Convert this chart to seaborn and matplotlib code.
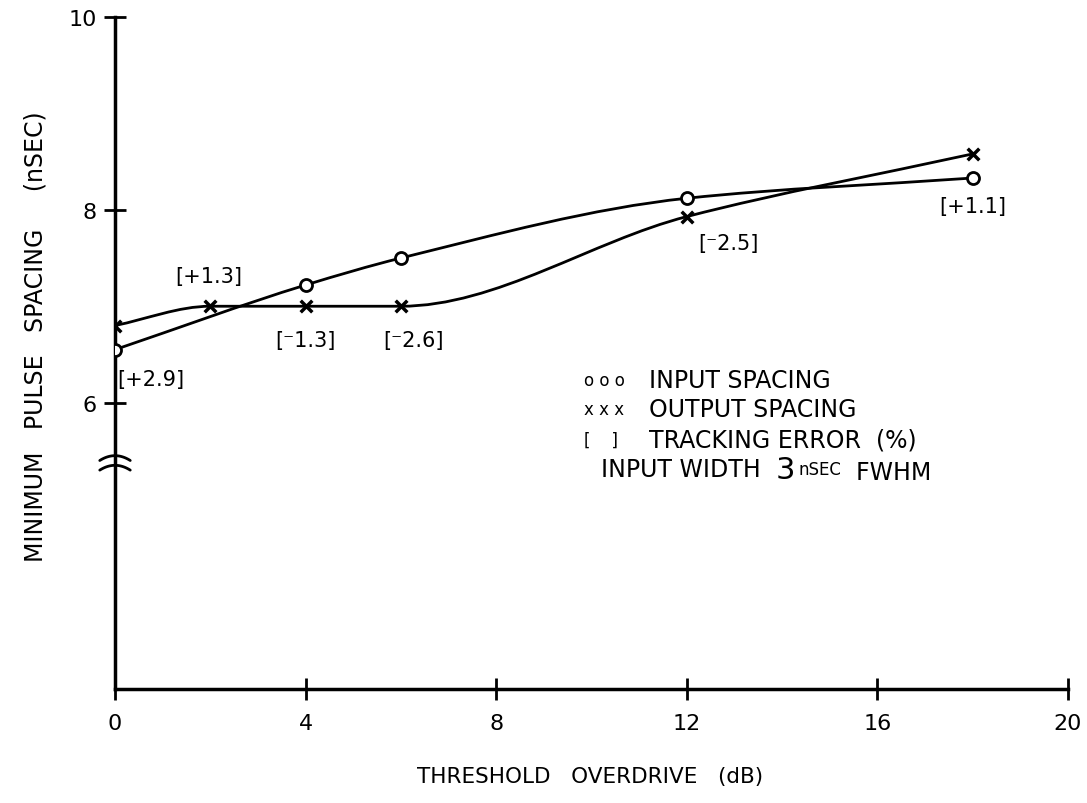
import matplotlib
matplotlib.use("Agg")
import matplotlib.pyplot as plt
from matplotlib.path import Path
from matplotlib.patches import PathPatch
import seaborn as sns
import pandas as pd
import numpy as np

sns.set_style("white")
plt.rcParams["font.family"] = ["DejaVu Sans"]
plt.rcParams["text.color"] = "black"
plt.rcParams["axes.labelcolor"] = "black"

# values
overdrive_in = [0, 4, 6, 12, 18]
input_spacing = [6.55, 7.22, 7.50, 8.12, 8.33]
overdrive_out = [0, 2, 4, 6, 12, 18]
output_spacing = [6.80, 7.00, 7.00, 7.00, 7.93, 8.58]

# tracking error labels, attached to a point on one of the curves
error_x = [0, 2, 4, 6, 12, 18]
error_y = [6.55, 7.00, 7.00, 7.00, 7.93, 8.33]
error_text = ["[+2.9]", "[+1.3]", "[\u207b1.3]", "[\u207b2.6]", "[\u207b2.5]", "[+1.1]"]
error_offset = [(26, -21), (-1, 22), (0, -24), (9, -24), (30, -19), (0, -20)]

x_ticks = [0, 4, 8, 12, 16, 20]
y_ticks = [6, 8, 10]

legend_lines = ["INPUT SPACING", "OUTPUT SPACING", "TRACKING ERROR  (%)"]
legend_marks = ["o o o", "x x x", "[    ]"]


def smooth_path(xs, ys):
    # monotone cubic (fritsch-carlson) through the points, as bezier segments
    x = np.asarray(xs, float)
    y = np.asarray(ys, float)
    h = np.diff(x)
    d = np.diff(y) / h
    m = np.zeros_like(y)
    m[0], m[-1] = d[0], d[-1]
    for k in range(1, len(x) - 1):
        if d[k - 1] * d[k] > 0:
            w1 = 2 * h[k] + h[k - 1]
            w2 = h[k] + 2 * h[k - 1]
            m[k] = (w1 + w2) / (w1 / d[k - 1] + w2 / d[k])
    verts = [(x[0], y[0])]
    codes = [Path.MOVETO]
    for k in range(len(x) - 1):
        verts += [(x[k] + h[k] / 3, y[k] + m[k] * h[k] / 3),
                  (x[k + 1] - h[k] / 3, y[k + 1] - m[k + 1] * h[k] / 3),
                  (x[k + 1], y[k + 1])]
        codes += [Path.CURVE4] * 3
    return Path(verts, codes)


df_in = pd.DataFrame({"overdrive": overdrive_in, "spacing": input_spacing})
df_out = pd.DataFrame({"overdrive": overdrive_out, "spacing": output_spacing})

fig = plt.figure(figsize=(10.87, 8.04), dpi=100)
ax = fig.add_axes([0.1058, 0.1418, 0.8767, 0.8358])

for xs, ys in [(overdrive_in, input_spacing), (overdrive_out, output_spacing)]:
    ax.add_patch(PathPatch(smooth_path(xs, ys), facecolor="none",
                           edgecolor="black", lw=2.0, zorder=2))

sns.scatterplot(data=df_in, x="overdrive", y="spacing", ax=ax, marker="o",
                s=75, facecolor="white", edgecolor="black", linewidth=2.0,
                zorder=3)
sns.scatterplot(data=df_out, x="overdrive", y="spacing", ax=ax, marker="x",
                s=70, color="black", linewidth=2.5, zorder=3)

for x, y, txt, off in zip(error_x, error_y, error_text, error_offset):
    ax.annotate(txt, (x, y), xytext=off, textcoords="offset points",
                ha="center", va="center", fontsize=15)

# key block
key_y = [6.24, 5.93, 5.62]
for y, mark, txt in zip(key_y, legend_marks, legend_lines):
    ax.text(9.85, y, mark, fontsize=12, va="center", ha="left")
    ax.text(11.2, y, txt, fontsize=17, va="center", ha="left")
t1 = ax.text(10.2, 5.31, "INPUT WIDTH  ", fontsize=17, va="center", ha="left")
t2 = ax.annotate("3", xy=(1, 0), xycoords=t1, va="bottom", ha="left",
                 fontsize=22, xytext=(0, -2), textcoords="offset points")
t3 = ax.annotate("nSEC", xy=(1, 0), xycoords=t2, va="bottom", ha="left",
                 fontsize=12, xytext=(2, 4), textcoords="offset points")
ax.annotate("  FWHM", xy=(1, 0), xycoords=t3, va="bottom", ha="left",
            fontsize=17, xytext=(0, -4), textcoords="offset points")

# axis break marks on the y axis
tb = np.linspace(-1, 1, 25)
trans = ax.get_yaxis_transform()
for yb in [5.40, 5.30]:
    ax.plot(tb * 0.016, yb + 0.05 * (1 - tb ** 2), color="black", lw=2,
            transform=trans, clip_on=False, zorder=4)

ax.set_xlim(0, 20)
ax.set_ylim(3.03, 10)
ax.set_xticks(x_ticks)
ax.set_yticks(y_ticks)
ax.set_xticklabels([str(v) for v in x_ticks], fontsize=16)
ax.set_yticklabels([str(v) for v in y_ticks], fontsize=16)
ax.tick_params(bottom=True, left=True, direction="inout", length=16,
               width=2, colors="black")
ax.tick_params(axis="x", pad=9)
ax.tick_params(axis="y", pad=5)
ax.set_xlabel("")
ax.set_ylabel("")
sns.despine(ax=ax)
for side in ["left", "bottom"]:
    ax.spines[side].set_linewidth(2.5)
    ax.spines[side].set_color("black")

fig.text(590 / 1087, 1 - 777 / 804, "THRESHOLD   OVERDRIVE   (dB)",
         ha="center", va="center", fontsize=15.5)
fig.text(36 / 1087, 1 - 337 / 804, "MINIMUM   PULSE   SPACING     (nSEC)",
         ha="center", va="center", rotation=90, fontsize=17)

fig.savefig("out.png", dpi=100)
